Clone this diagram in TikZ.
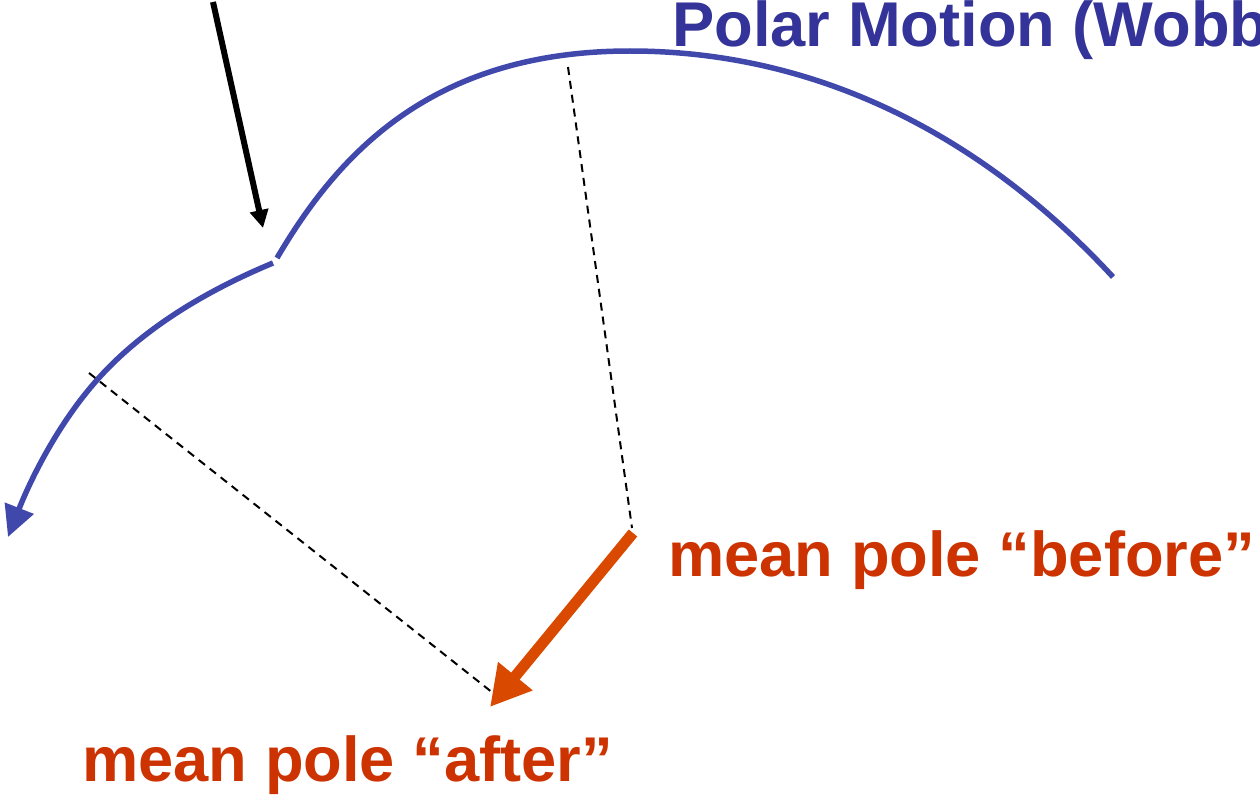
\documentclass[tikz,border=0pt]{standalone}
\usepackage{xcolor}
\usepackage{fontspec}
\setmainfont{Liberation Sans}
\usepackage{tikz}
\usetikzlibrary{arrows.meta}
\definecolor{wobline}{HTML}{4148AC}
\definecolor{wobtext}{HTML}{333399}
\definecolor{shift}{HTML}{D94A00}
\definecolor{shifttext}{HTML}{CC3300}
\tikzset{
  wobble/.style  ={draw=wobline,line width=0.11cm},
  radius/.style  ={draw=black,line width=0.04cm,dash pattern=on 0.16cm off 0.12cm},
  pointer/.style ={-{Triangle[length=0.36cm,width=0.36cm]},line width=0.12cm,draw=black},
  drift/.style   ={-{Triangle[length=0.8cm,width=0.84cm]},line width=0.22cm,draw=shift},
  label/.style   ={anchor=base west,inner sep=0pt,font=\fontsize{36}{40}\selectfont\bfseries}
}

\begin{document}
\begin{tikzpicture}[x=0.02cm,y=-0.02cm]
    \useasboundingbox (0,0) rectangle (1260,794);
    \clip (0,0) rectangle (1260,794);
    % points on the wobble
    \coordinate (cuspa) at (277,258);
    \coordinate (cuspb) at (273,263);
    \coordinate (wobtop) at (630,51);
    \coordinate (wobmid) at (97,380);
    \coordinate (wobend) at (1113,277);
    \coordinate (wobtip) at (8,537);
    \coordinate (topmark) at (568,67);
    \coordinate (leftmark) at (89,373);
    \coordinate (before) at (632,528);
    \coordinate (beforestart) at (633,533);
    \coordinate (after) at (493,693);
    \coordinate (aftertip) at (490,707);
    \coordinate (ptrstart) at (213,2);
    \coordinate (ptrtip) at (263,228);

    \draw[wobble] (cuspa) .. controls (337,156) and (430,51) .. (wobtop)
                          .. controls (830,51) and (993,147) .. (wobend);
    \draw[wobble,-{Triangle[length=0.62cm,width=0.6cm]}]
      (cuspb) .. controls (208,290) and (143,328) .. (wobmid)
              .. controls (57,425) and (30,481) .. (wobtip);

    \draw[radius] (topmark) -- (before);
    \draw[radius] (leftmark) -- (after);
    \draw[pointer] (ptrstart) -- (ptrtip);
    \draw[drift] (beforestart) -- (aftertip);

    \node[label,text=wobtext] (title) at (672,47) {Polar Motion (Wobble)};
    \node[label,text=shifttext] (lbefore) at (668,576) {mean pole “before”};
    \node[label,text=shifttext] (lafter) at (82,781) {mean pole “after”};
  \end{tikzpicture}
\end{document}
